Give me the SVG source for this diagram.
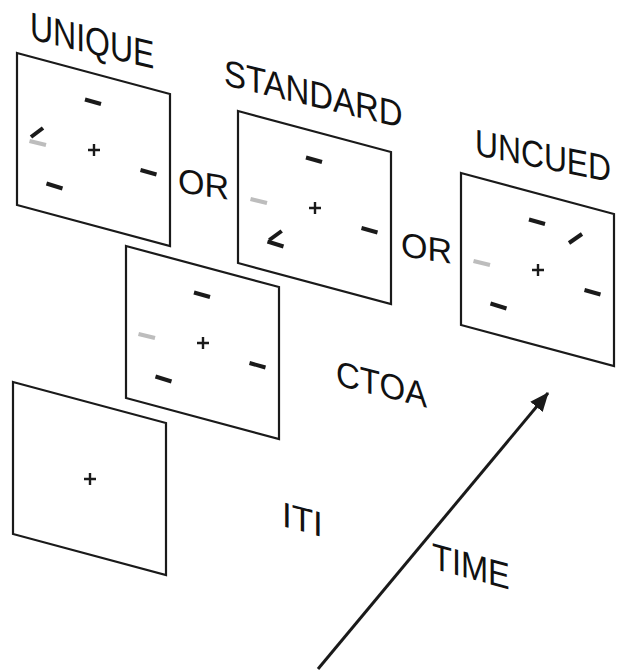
<svg xmlns="http://www.w3.org/2000/svg" width="629" height="672" viewBox="0 0 629 672">
  <style>
    .frame { fill: #ffffff; stroke: #1a1a1a; stroke-width: 2.2; stroke-linejoin: miter; }
    .bar { stroke: #1a1a1a; stroke-width: 4; stroke-linecap: butt; fill: none; }
    .cue { stroke: #bdbdbd; stroke-width: 4; stroke-linecap: butt; fill: none; }
    .fix { stroke: #1a1a1a; stroke-width: 2.4; fill: none; }
    .label { font-family: "Liberation Sans", Arial, Helvetica, sans-serif; fill: #111111; }
    .axis { stroke: #1a1a1a; stroke-width: 3; fill: none; }
  </style>
  <defs>
    <!-- one tilted display screen -->
    <path id="screen" class="frame" d="M0,0 L153,41 L153,193 L0,152 Z"/>
    <!-- fixation cross -->
    <path id="cross" class="fix" d="M71,97 H83 M77,91 V103"/>
    <!-- placeholder bars -->
    <line id="barTop" class="bar" x1="68" y1="46.5" x2="84" y2="51"/>
    <line id="barRight" class="bar" x1="123.5" y1="117" x2="139.5" y2="121.5"/>
    <line id="barLow" class="bar" x1="29.5" y1="130.5" x2="45.5" y2="135.5"/>
    <line id="cueLeft" class="cue" x1="12.5" y1="88" x2="29" y2="92"/>
    <marker id="head" markerUnits="userSpaceOnUse" markerWidth="20" markerHeight="16" refX="18" refY="8" orient="auto">
      <path d="M0,0 L19,8 L0,16 Z" fill="#1a1a1a"/>
    </marker>
  </defs>

  <!-- labels -->
  <g id="labels" class="label">
    <text font-size="39" transform="matrix(0.82 0.197 0 1 30 39)">UNIQUE</text>
    <text font-size="37" transform="matrix(0.89 0.214 0 1 224 85)">STANDARD</text>
    <text font-size="37" transform="matrix(0.86 0.172 0 1 475 155)">UNCUED</text>
    <text font-size="34" transform="matrix(1 0.15 0 1 178 192)">OR</text>
    <text font-size="34" transform="matrix(1 0.15 0 1 401 256)">OR</text>
    <text font-size="35.5" transform="matrix(0.93 0.2325 0 1 336 385)">CTOA</text>
    <text font-size="35" transform="matrix(1 0.27 0 1 282 526)">ITI</text>
    <text font-size="37" transform="matrix(0.88 0.2376 0 1 432 568.5)">TIME</text>
  </g>

  <!-- unique cue display -->
  <g id="unique" transform="translate(17,53)">
    <use href="#screen"/>
    <use href="#barTop"/>
    <use href="#barRight"/>
    <use href="#barLow"/>
    <use href="#cueLeft"/>
    <line class="bar" x1="14" y1="84" x2="26" y2="75"/>
    <use href="#cross"/>
  </g>

  <!-- standard cue display -->
  <g id="standard" transform="translate(238,111)">
    <use href="#screen"/>
    <use href="#barTop"/>
    <use href="#barRight"/>
    <use href="#barLow"/>
    <use href="#cueLeft"/>
    <line class="bar" x1="31.3" y1="129" x2="43.7" y2="120"/>
    <use href="#cross"/>
  </g>

  <!-- uncued display -->
  <g id="uncued" transform="translate(461,173)">
    <use href="#screen"/>
    <use href="#barTop"/>
    <use href="#barRight"/>
    <use href="#barLow"/>
    <use href="#cueLeft"/>
    <line class="bar" x1="108" y1="70" x2="121" y2="61"/>
    <use href="#cross"/>
  </g>

  <!-- cue display during the CTOA -->
  <g id="ctoa" transform="translate(126,246)">
    <use href="#screen"/>
    <use href="#barTop"/>
    <use href="#barRight"/>
    <use href="#barLow"/>
    <use href="#cueLeft"/>
    <use href="#cross"/>
  </g>

  <!-- fixation display during the ITI -->
  <g id="iti" transform="translate(13,382)">
    <use href="#screen"/>
    <use href="#cross"/>
  </g>

  <!-- time axis -->
  <g id="connectors">
    <line class="axis" x1="318" y1="669" x2="548" y2="393" marker-end="url(#head)"/>
  </g>
</svg>
